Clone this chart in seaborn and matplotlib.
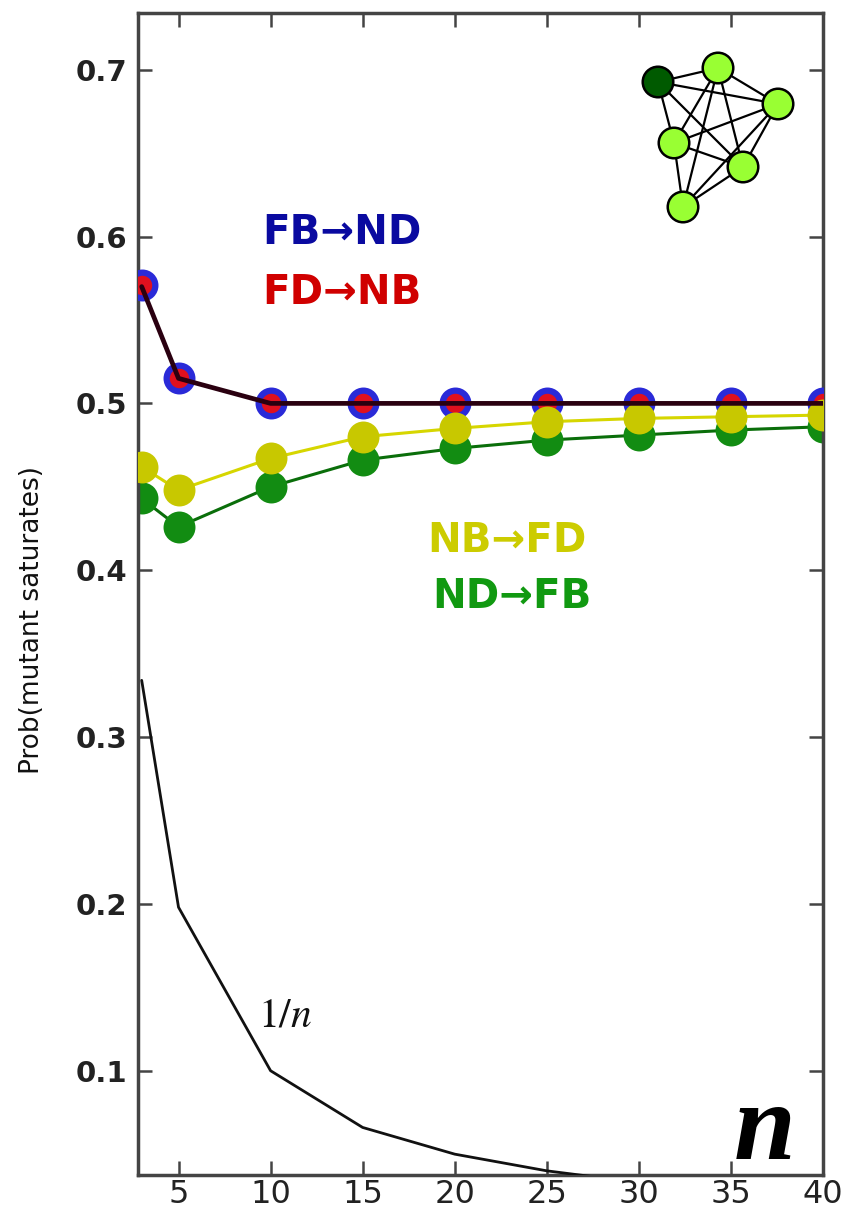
import matplotlib
matplotlib.use("Agg")
import matplotlib.pyplot as plt
import seaborn as sns
import pandas as pd

# ---- data ----
n_vals = [3, 5, 10, 15, 20, 25, 30, 35, 40]
fb_nd = [0.571, 0.515, 0.500, 0.500, 0.500, 0.500, 0.500, 0.500, 0.500]
fd_nb = [0.570, 0.515, 0.500, 0.500, 0.500, 0.500, 0.500, 0.500, 0.500]
nb_fd = [0.462, 0.448, 0.467, 0.480, 0.485, 0.489, 0.491, 0.492, 0.493]
nd_fb = [0.443, 0.426, 0.450, 0.466, 0.473, 0.478, 0.481, 0.484, 0.486]
inv_n_x = [3, 5, 10, 15, 20, 25, 30, 35, 40]
inv_n_y = [0.334, 0.198, 0.100, 0.066, 0.050, 0.040, 0.033, 0.029, 0.025]
x_ticks = [5, 10, 15, 20, 25, 30, 35, 40]
y_ticks = [0.1, 0.2, 0.3, 0.4, 0.5, 0.6, 0.7]

# network inset (K6 minus one edge)
node_x = [658, 718, 778, 674, 743, 683]
node_y = [82, 68, 104, 143, 167, 207]
node_col = ["#005a00", "#99ff33", "#99ff33", "#99ff33", "#99ff33", "#99ff33"]
edges = [(0, 1), (0, 2), (0, 3), (0, 4), (1, 2), (1, 3), (1, 4), (1, 5),
         (2, 3), (2, 4), (2, 5), (3, 4), (3, 5), (4, 5)]

sns.set_theme(style="white")
plt.rcParams['font.family'] = ['DejaVu Sans']
plt.rcParams['mathtext.fontset'] = 'stix'

fig = plt.figure(figsize=(8.5, 12.16), dpi=100)
ax = fig.add_axes([138 / 850, 41 / 1216, 685 / 850, 1162 / 1216])

df = pd.DataFrame({"n": n_vals, "fb": fb_nd, "fd": fd_nb, "nb": nb_fd, "nd": nd_fb})
dfi = pd.DataFrame({"n": inv_n_x, "y": inv_n_y})

# green
sns.lineplot(data=df, x="n", y="nd", ax=ax, color="#0a6e0a", lw=2.2,
             marker="o", markersize=23, markerfacecolor="#128c12",
             markeredgecolor="#128c12", markeredgewidth=0, zorder=2)
# blue/red markers
sns.lineplot(data=df, x="n", y="fb", ax=ax, linestyle="", marker="o",
             markersize=18.5, markerfacecolor="#e0101e", markeredgecolor="#2a2ad8",
             markeredgewidth=4.5, zorder=3)
# yellow
sns.lineplot(data=df, x="n", y="nb", ax=ax, color="#d6d600", lw=2.2,
             marker="o", markersize=23, markerfacecolor="#c8c800",
             markeredgecolor="#c8c800", markeredgewidth=0, zorder=4)
# dark line for FB/FD
sns.lineplot(data=df, x="n", y="fd", ax=ax, color="#2a0010", lw=3.4, zorder=5)
# 1/n
sns.lineplot(data=dfi, x="n", y="y", ax=ax, color="#111111", lw=2.0, zorder=5)

ax.set_xlim(2.8, 40)
ax.set_ylim(0.0375, 0.734)
ax.set_xticks(x_ticks)
ax.set_yticks(y_ticks)
ax.set_xticklabels([str(t) for t in x_ticks], fontsize=23, color="#222222")
ax.set_yticklabels([f"{t:.1f}" for t in y_ticks], fontsize=21,
                   fontweight="bold", color="#222222")
ax.tick_params(direction="in", length=10, width=1.8, color="#444444",
               top=True, right=True, bottom=True, left=True, pad=8)
ax.tick_params(axis="x", pad=3)
for s in ax.spines.values():
    s.set_color("#444444")
    s.set_linewidth(2.5)
    s.set_visible(True)
ax.set_xlabel("")
ax.set_ylabel("")

fig.text(32 / 850, 1 - 620 / 1216, "Prob(mutant saturates)", rotation=90,
         ha="center", va="center", fontsize=19, color="#111111")

# series labels
ax.text(0.298, 0.811, "FB→ND", transform=ax.transAxes, ha="center", va="center",
        fontsize=29, fontweight="bold", color="#0a0aa0")
ax.text(0.298, 0.759, "FD→NB", transform=ax.transAxes, ha="center", va="center",
        fontsize=29, fontweight="bold", color="#d00000")
ax.text(0.539, 0.546, "NB→FD", transform=ax.transAxes, ha="center", va="center",
        fontsize=29, fontweight="bold", color="#cccc00")
ax.text(0.546, 0.497, "ND→FB", transform=ax.transAxes, ha="center", va="center",
        fontsize=29, fontweight="bold", color="#119911")

ax.text(0.215, 0.138, r"$1/n$", transform=ax.transAxes, ha="center", va="center",
        fontsize=30, color="#111111")
ax.text(0.915, 0.014, "n", transform=ax.transAxes, ha="center", va="baseline",
        fontsize=80, fontweight="bold", fontstyle="italic",
        family="Liberation Serif", color="black")

# network inset
iax = fig.add_axes([620 / 850, 1 - 240 / 1216, 190 / 850, 200 / 1216])
iax.set_xlim(620, 810)
iax.set_ylim(240, 40)
iax.axis("off")
for a, b in edges:
    iax.plot([node_x[a], node_x[b]], [node_y[a], node_y[b]], color="black",
             lw=1.6, zorder=1)
iax.scatter(node_x, node_y, s=22 ** 2, c=node_col, edgecolors="black",
            linewidths=1.8, zorder=2)

fig.savefig("out.png", dpi=100)
